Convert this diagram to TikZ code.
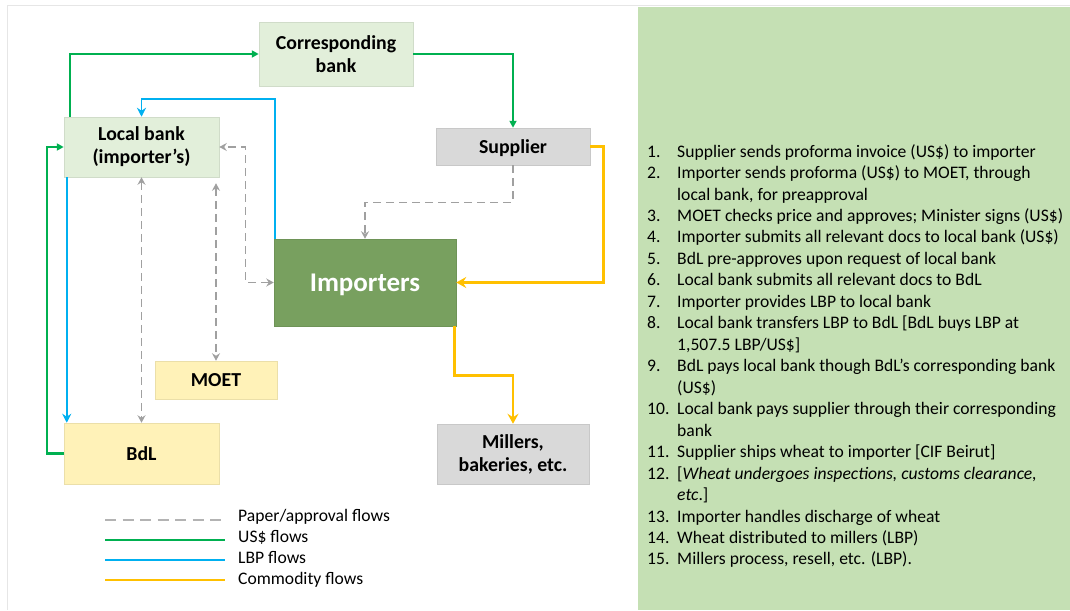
\documentclass[tikz,border=0pt]{standalone}
\usepackage{fontspec}
\setmainfont{Carlito}
\usetikzlibrary{arrows.meta}
\definecolor{boxgreen}{HTML}{E2EFDA}
\definecolor{boxgray}{HTML}{D9D9D9}
\definecolor{boxyellow}{HTML}{FFF2B8}
\definecolor{impgreen}{HTML}{78A05F}
\definecolor{panelgreen}{HTML}{C5E0B4}
\definecolor{usdgreen}{HTML}{00B050}
\definecolor{lbpblue}{HTML}{00B0F0}
\definecolor{comorange}{HTML}{FFC000}
\definecolor{papergray}{HTML}{A0A0A0}
\definecolor{framegray}{HTML}{E6E6E6}
\newcommand\listline[4]{%
  \node[listtxt] (num#1) at (647,#2) {#3};
  \node[listtxt] (txt#1) at (677,#2) {#4};}
\newcommand\contline[3]{%
  \node[listtxt] (txt#1) at (677,#2) {#3};}
\begin{document}
\begin{tikzpicture}[x=1pt,y=-1pt,
  box/.style={draw=#1!92!black, line width=0.5pt, fill=#1, inner sep=2pt, align=center,
    font=\fontsize{19.8}{23}\selectfont\bfseries},
  usd/.style={draw=usdgreen, line width=2.2pt, -{Triangle[length=7pt,width=7pt]}},
  lbp/.style={draw=lbpblue, line width=1.6pt, -{Stealth[length=9pt,width=9pt,inset=3pt]}},
  com/.style={draw=comorange, line width=2.6pt, -{Stealth[length=10pt,width=11pt,inset=3.5pt]}},
  paper/.style={draw=papergray, line width=1.4pt, dash pattern=on 8pt off 5pt,
    arrows={-Stealth[length=7.5pt,width=8pt,inset=2.5pt]}},
  paperboth/.style={paper, arrows={Stealth[length=7.5pt,width=8pt,inset=2.5pt]-Stealth[length=7.5pt,width=8pt,inset=2.5pt]}},
  legtxt/.style={anchor=base west, inner sep=0, font=\fontsize{17.6}{20}\selectfont},
  listtxt/.style={anchor=base west, inner sep=0, font=\fontsize{17.6}{20}\selectfont},
]
\useasboundingbox (0,0) rectangle (1070,610);
% frame and panel
\fill[panelgreen] (638,7) rectangle (1070,610);
\draw[framegray, line width=1pt] (7,610) -- (7,6) -- (1070,6);

% nodes
\node[box=boxgreen, minimum width=154pt, minimum height=64pt] (corr) at (336,54) {Corresponding\\bank};
\node[box=boxgreen, minimum width=155pt, minimum height=60pt] (local) at (141.5,147) {Local bank\\(importer’s)};
\node[box=boxgray, minimum width=154pt, minimum height=37pt, text depth=0pt] (supp) at (513,146.5) {Supplier};
\node[box=impgreen, minimum width=182pt, minimum height=87pt, text=white, text depth=0pt,
  font=\fontsize{27}{30}\selectfont\bfseries] (imp) at (365,282.5) {Importers};
\node[box=boxyellow, minimum width=122pt, minimum height=38pt] (moet) at (216,380) {MOET};
\node[box=boxyellow, minimum width=155pt, minimum height=61pt] (bdl) at (141.5,453.5) {BdL};
\node[box=boxgray, minimum width=152pt, minimum height=60pt] (mill) at (513,454) {Millers,\\bakeries, etc.};

% US$ flows
\draw[usd] ([xshift=6pt]local.north west) |- (corr.west);
\draw[usd] (corr.east) -| (supp.north);
\draw[usd] (bdl.west) -- ++(-17,0) |- (local.west);
% LBP flows
\draw[lbp] ([xshift=1pt]imp.north west) |- ([yshift=18pt]local.north) -- (local.north);
\draw[lbp] ([xshift=3pt]local.south west) -- ([xshift=3pt]bdl.north west);
% paper flows
\draw[paperboth] (local.south) -- (bdl.north);
\draw[paperboth] ([yshift=-6pt]moet.north |- local.south) -- (moet.north);
\draw[paperboth] (imp.west) -- ++(-28,0) |- (local.east);
\draw[paper] (supp.south) -- ++(0,37) -| (imp.north);
% commodity flows
\draw[com] (supp.east) -- ++(13,0) |- (imp.east);
\draw[com] ([xshift=-2pt]imp.south east) -- ++(0,49) -| (mill.north);

% legend
\coordinate (l1a) at (105,520); \coordinate (l1b) at (225,520);
\coordinate (l2a) at (105,540); \coordinate (l2b) at (225,540);
\coordinate (l3a) at (105,560); \coordinate (l3b) at (225,560);
\coordinate (l4a) at (105,580); \coordinate (l4b) at (225,580);
\draw[draw=papergray!80, line width=1.4pt, dash pattern=on 11pt off 6.5pt] (l1a) -- (l1b);
\draw[draw=usdgreen, line width=2.2pt] (l2a) -- (l2b);
\draw[draw=lbpblue, line width=1.6pt] (l3a) -- (l3b);
\draw[draw=comorange, line width=2.6pt] (l4a) -- (l4b);
\node[legtxt] (leg1) at (238,521.5) {Paper/approval flows};
\node[legtxt] (leg2) at (238,542) {US\$ flows};
\node[legtxt] (leg3) at (238,563) {LBP flows};
\node[legtxt] (leg4) at (238,584) {Commodity flows};

% numbered list
\listline{a}{157}{1.}{Supplier sends proforma invoice (US\$) to importer}
\listline{b}{178.5}{2.}{Importer sends proforma (US\$) to MOET, through}
\contline{b2}{200}{local bank, for preapproval}
\listline{c}{221.4}{3.}{MOET checks price and approves; Minister signs (US\$)}
\listline{d}{242.9}{4.}{Importer submits all relevant docs to local bank (US\$)}
\listline{e}{264.4}{5.}{BdL pre-approves upon request of local bank}
\listline{f}{285.8}{6.}{Local bank submits all relevant docs to BdL}
\listline{g}{307.3}{7.}{Importer provides LBP to local bank}
\listline{h}{328.8}{8.}{Local bank transfers LBP to BdL [BdL buys LBP at}
\contline{h2}{350.2}{1,507.5 LBP/US\$]}
\listline{i}{371.7}{9.}{BdL pays local bank though BdL’s corresponding bank}
\contline{i2}{393.2}{(US\$)}
\listline{j}{414.6}{10.}{Local bank pays supplier through their corresponding}
\contline{j2}{436.1}{bank}
\listline{k}{457.6}{11.}{Supplier ships wheat to importer [CIF Beirut]}
\listline{l}{479.1}{12.}{[\textit{Wheat undergoes inspections, customs clearance,}}
\contline{l2}{500.5}{\textit{etc}.]}
\listline{m}{522}{13.}{Importer handles discharge of wheat}
\listline{n}{543.4}{14.}{Wheat distributed to millers (LBP)}
\listline{o}{564.9}{15.}{Millers process, resell, etc. (LBP).}
\end{tikzpicture}
\end{document}
